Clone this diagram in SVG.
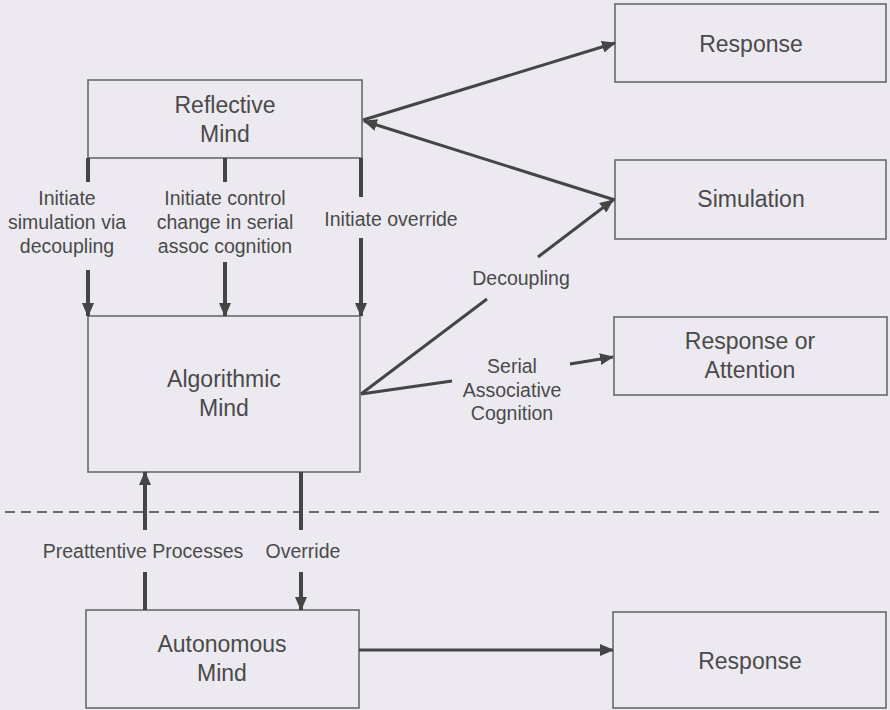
<svg xmlns="http://www.w3.org/2000/svg" width="890" height="710" viewBox="0 0 890 710">
<defs>
<marker id="ah" markerUnits="userSpaceOnUse" markerWidth="14" markerHeight="12" refX="13" refY="6" orient="auto"><path d="M0,0 L14,6 L0,12 z" fill="#454545"/></marker>
<style>
.box{fill:none;stroke:#6a6a6a;stroke-width:1.6}
.bt{font-family:"Liberation Sans",Arial,sans-serif;font-size:23px;fill:#4a4a4a;text-anchor:middle}
.lt{font-family:"Liberation Sans",Arial,sans-serif;font-size:19.5px;fill:#4a4a4a;text-anchor:middle}
.thick{stroke:#454545;stroke-width:4;fill:none}
.ln{stroke:#454545;stroke-width:3;fill:none}
</style>
</defs>
<rect width="890" height="710" fill="#ece9f0"/>
<g id="reflective"><rect class="box" x="88" y="80" width="274" height="78"/><text class="bt" x="225" y="113">Reflective</text><text class="bt" x="225" y="142">Mind</text></g>
<g id="algorithmic"><rect class="box" x="88" y="316" width="272" height="156"/><text class="bt" x="224" y="387">Algorithmic</text><text class="bt" x="224" y="416">Mind</text></g>
<g id="autonomous"><rect class="box" x="86" y="610" width="273" height="98"/><text class="bt" x="222" y="652">Autonomous</text><text class="bt" x="222" y="681">Mind</text></g>
<g id="response1"><rect class="box" x="615" y="4" width="271" height="78"/><text class="bt" x="751" y="52">Response</text></g>
<g id="simulation"><rect class="box" x="615" y="160" width="271" height="79"/><text class="bt" x="751" y="207">Simulation</text></g>
<g id="responseattention"><rect class="box" x="614" y="317" width="273" height="78"/><text class="bt" x="750" y="349">Response or</text><text class="bt" x="750" y="378">Attention</text></g>
<g id="response2"><rect class="box" x="613" y="612" width="273" height="96"/><text class="bt" x="750" y="669">Response</text></g>
<g id="connectors">
<line class="thick" x1="88" y1="158" x2="88" y2="182"/>
<line class="thick" x1="88" y1="270" x2="88" y2="316" marker-end="url(#ah)"/>
<line class="thick" x1="225" y1="158" x2="225" y2="182"/>
<line class="thick" x1="225" y1="262" x2="225" y2="316" marker-end="url(#ah)"/>
<line class="thick" x1="361" y1="158" x2="361" y2="197"/>
<line class="thick" x1="361" y1="238" x2="361" y2="316" marker-end="url(#ah)"/>
<line class="ln" x1="363" y1="120" x2="615" y2="43" marker-end="url(#ah)"/>
<line class="ln" x1="615" y1="200" x2="364" y2="121" marker-end="url(#ah)"/>
<line class="ln" x1="361" y1="394" x2="487" y2="299"/>
<line class="ln" x1="538" y1="257" x2="613" y2="200" marker-end="url(#ah)"/>
<line class="ln" x1="361" y1="394" x2="452" y2="381"/>
<line class="ln" x1="570" y1="364" x2="613" y2="357" marker-end="url(#ah)"/>
<line stroke="#6a6a6a" stroke-width="2" stroke-dasharray="10,6" x1="5" y1="512" x2="882" y2="512"/>
<line class="thick" x1="145" y1="610" x2="145" y2="572"/>
<line class="thick" x1="145" y1="530" x2="145" y2="472" marker-end="url(#ah)"/>
<line class="thick" x1="301" y1="472" x2="301" y2="530"/>
<line class="thick" x1="301" y1="572" x2="301" y2="610" marker-end="url(#ah)"/>
<line class="ln" x1="359" y1="650" x2="613" y2="650" marker-end="url(#ah)"/>
</g>
<g id="labels">
<text class="lt" x="67" y="205">Initiate</text><text class="lt" x="67" y="229">simulation via</text><text class="lt" x="67" y="253">decoupling</text>
<text class="lt" x="225" y="205">Initiate control</text><text class="lt" x="225" y="229">change in serial</text><text class="lt" x="225" y="253">assoc cognition</text>
<text class="lt" x="391" y="226">Initiate override</text>
<text class="lt" x="521" y="285">Decoupling</text>
<text class="lt" x="512" y="373">Serial</text><text class="lt" x="512" y="397">Associative</text><text class="lt" x="512" y="420">Cognition</text>
<text class="lt" x="143" y="558">Preattentive Processes</text>
<text class="lt" x="303" y="558">Override</text>
</g>
</svg>
